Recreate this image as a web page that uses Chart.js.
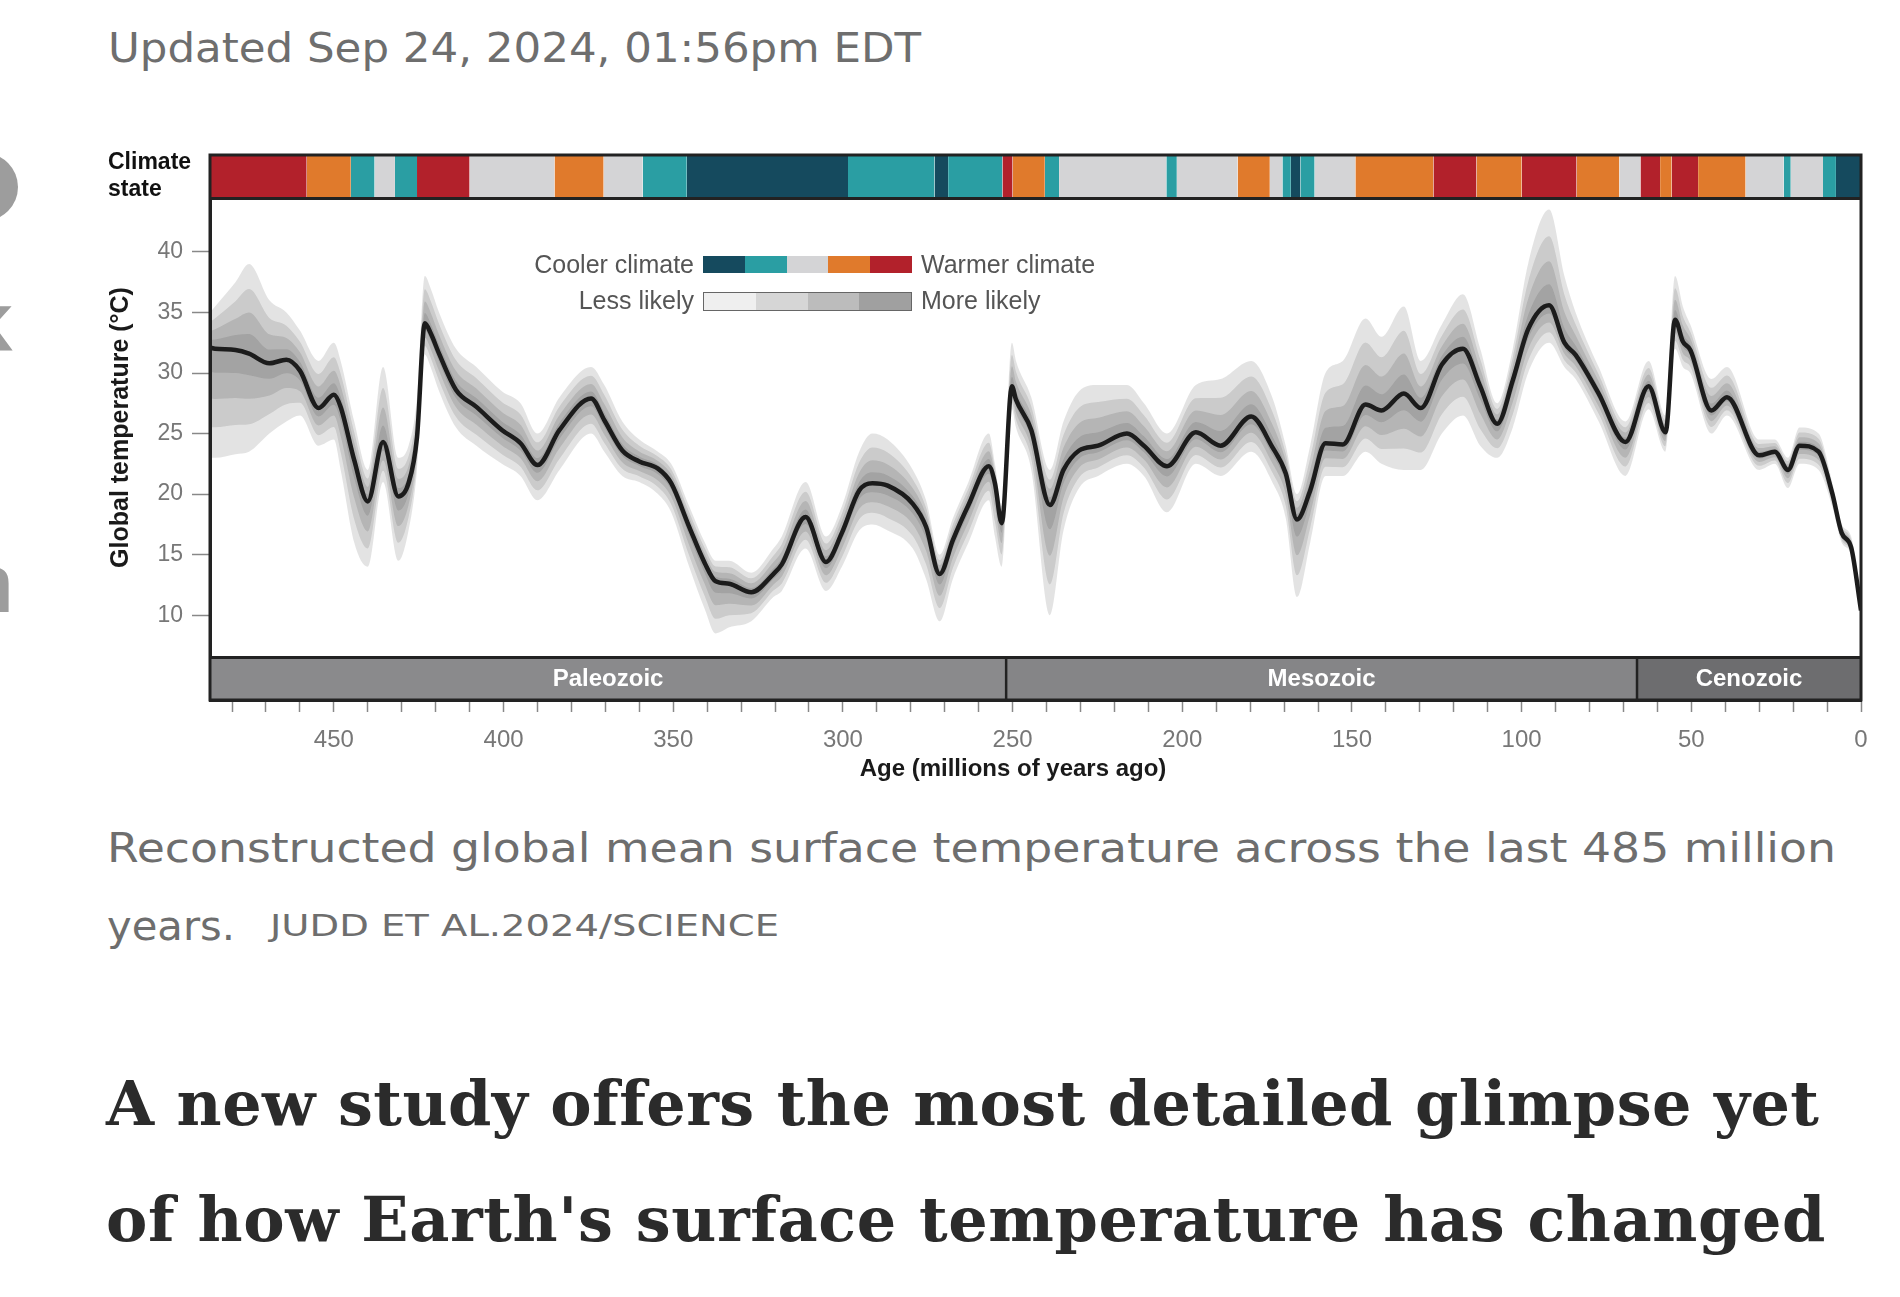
<!DOCTYPE html>
<html lang="en">
<head>
<meta charset="UTF-8">
<title>Reconstructed global mean surface temperature</title>
<script src="https://cdn.jsdelivr.net/npm/chart.js@4"></script>
<style>
  body { margin: 0; width: 1900px; height: 1297px; background: #fff; position: relative; overflow: hidden; font-family: 'DejaVu Sans', sans-serif; }
  .abs { position: absolute; white-space: nowrap; }
  #updated { left: 108px; top: 20px; font-size: 40px; line-height: 56px; color: #6e6e6e; }
  #chartBox { position: absolute; left: 0; top: 0; width: 1900px; height: 800px; }
  #climateLbl { left: 108px; top: 148px; font: bold 23px/27px 'Liberation Sans Narrow', 'Liberation Sans', sans-serif; color: #111; }
  #xTitle { left: 1013px; top: 753px; transform: translateX(-50%); font: bold 24px/30px 'Liberation Sans Narrow', 'Liberation Sans', sans-serif; color: #1a1a1a; }
  .leg { font: 25px/28px 'Liberation Sans Narrow', 'Liberation Sans', sans-serif; color: #555; }
  .sw { position: absolute; display: flex; height: 17px; }
  .sw div { flex: 1; }
  .cap { font-size: 40px; line-height: 52px; color: #6e6e6e; }
  #credit { font-size: 30px; line-height: 40px; color: #6e6e6e; }
  .head { font: bold 62px/80px 'DejaVu Serif', serif; color: #2b2b2b; }
  .edge { font: bold 80px/80px 'Open Sans', sans-serif; color: #9d9d9d; }
  #dot { position: absolute; left: -50px; top: 153px; width: 68px; height: 68px; border-radius: 50%; background: #9d9d9d; }
</style>
</head>
<body>
<div class="abs" id="updated">Updated Sep 24, 2024, 01:56pm EDT</div>

<div id="dot"></div>
<div class="abs edge" style="left:-37px; top:279px">k</div>
<div class="abs edge" style="left:-38px; top:541px">n</div>

<div id="chartBox"><canvas id="tempChart"></canvas></div>

<div class="abs" id="climateLbl">Climate<br>state</div>
<div class="abs" id="xTitle">Age (millions of years ago)</div>

<div class="abs leg" style="right:1206px; top:250px">Cooler climate</div>
<div class="sw" id="swClimate" style="left:703px; top:256px; width:209px"></div>
<div class="abs leg" style="left:921px; top:250px">Warmer climate</div>
<div class="abs leg" style="right:1206px; top:286px">Less likely</div>
<div class="sw" id="swLikely" style="left:703px; top:292px; width:207px; border:1px solid #666"></div>
<div class="abs leg" style="left:921px; top:286px">More likely</div>

<div class="abs cap" id="cap1" style="left:107px; top:822px">Reconstructed global mean surface temperature across the last 485 million</div>
<div class="abs cap" id="cap2" style="left:107px; top:900px">years.</div>
<div class="abs" id="credit" style="left:270px; top:906px">JUDD ET AL.2024/SCIENCE</div>

<div class="abs head" id="head1" style="left:106px; top:1064px">A new study offers the most detailed glimpse yet</div>
<div class="abs head" id="head2" style="left:106px; top:1180px">of how Earth's surface temperature has changed</div>

<script>
// age in millions of years ago, mean temperature and outer uncertainty envelope (°C)
const ages = [486.5, 485, 479, 475, 469, 464, 460, 454.5, 450, 448, 444, 440, 435.5, 431, 428, 425.5, 423.2, 421.5, 419, 414,
  408, 400.5, 395, 390, 383.5, 374.2, 370.3, 365, 360, 354.5, 350.6, 345.3, 340.7, 337.5, 333.5, 327, 320.5, 318, 311, 305,
  300.3, 295.2, 291.3, 286.8, 279.4, 275.5, 271.5, 267.6, 263, 257, 255.2, 253.2, 250.2, 249, 244.5, 239, 235, 230.4, 224.8, 216.3,
  211.3, 204.5, 196, 188.7, 179.7, 173.5, 169.5, 166.2, 162.3, 157.8, 152.7, 146, 141.3, 134.7, 129.7, 123.5, 117.3, 112.2, 107.2, 102.6,
  98.1, 91.9, 87.4, 84.1, 77.3, 69.4, 62.6, 57.6, 54.8, 52.5, 50.3, 44.1, 39.5, 30, 25.4, 21.5, 18.1, 12.5, 8.5, 5.7, 2.9, 0];
const meanTemp = [32.1, 32.0, 31.9, 31.6, 30.8, 31.1, 30.2, 27.1, 28.2, 27.2, 22.8, 19.4, 24.3, 19.8, 20.9, 24.7, 34.1, 33.3, 31.6, 28.6,
  27.2, 25.3, 24.2, 22.4, 25.3, 27.9, 26.1, 23.6, 22.7, 22.1, 20.9, 17.3, 14.3, 12.8, 12.6, 11.9, 13.4, 14.2, 18.1, 14.4,
  16.8, 20.3, 20.9, 20.7, 19.2, 17.3, 13.4, 16.2, 19.1, 22.3, 20.9, 17.6, 28.9, 27.8, 25.3, 19.1, 22.0, 23.6, 24.0, 25.0,
  24.0, 22.3, 25.1, 24.0, 26.4, 23.9, 21.7, 17.9, 20.3, 24.2, 24.1, 27.4, 26.9, 28.3, 27.1, 30.7, 32.0, 28.9, 25.8, 29.4,
  33.6, 35.6, 32.5, 31.5, 28.3, 24.3, 28.9, 25.1, 34.4, 32.6, 31.9, 26.9, 28.0, 23.2, 23.5, 22.0, 24.0, 23.5, 20.1, 16.8, 15.6, 10.4];
const outerHigh = [35, 35.5, 37.5, 39, 36, 35, 33.5, 31, 32.5, 31, 26, 22, 30.5, 23, 24, 28, 38, 37, 35, 32,
  30.5, 28.5, 27.5, 25, 28, 30.5, 29, 26, 24.5, 23.5, 22.5, 19, 16, 14.5, 14.5, 13.5, 15.5, 16.5, 21, 16.5,
  19, 23.5, 25, 24.5, 22, 19.5, 15, 18, 21, 25, 22.5, 19, 32.5, 31, 28, 22, 26, 28.5, 29, 29,
  27.5, 25, 29, 29.5, 31, 28, 24, 20, 24, 30, 31, 34.5, 33, 35.5, 31, 34, 36.5, 32, 27.5, 32,
  39, 43.5, 38, 35, 30.5, 26, 31, 26.5, 38, 35.5, 34, 29.5, 30.5, 24.5, 24.5, 23, 25.5, 25, 21, 17.5, 16.5, 10.8];
const outerLow = [23, 23, 23.3, 23.5, 25, 26, 26.5, 24, 24.5, 22, 16, 14, 21, 14.5, 17, 22, 31.5, 30.5, 28.5, 25.5,
  24, 22.5, 21.5, 19.5, 22, 25, 23.5, 21.5, 21, 20, 18.5, 14, 10.5, 8.5, 9, 9.5, 11.5, 12, 15.5, 12,
  14, 17, 17.5, 17, 15.5, 13, 9.5, 13, 16, 19.5, 16.5, 14, 27, 25.5, 22, 10, 17, 20.5, 21.5, 22.5,
  21.5, 18.5, 22.5, 21.5, 23.5, 21, 18, 11.5, 16, 21.5, 21.5, 23.5, 22.5, 22, 22, 25, 26.5, 24, 23, 25.5,
  30, 32.5, 30.5, 29.5, 26, 21.5, 27, 23.5, 32, 30.5, 30, 25, 26.5, 22, 22.5, 20.5, 22.5, 22, 19, 16, 15, 10];

// climate state strip: boundaries (Ma) and state per interval, 0 = coolest ... 4 = warmest
const climateBounds = [486.5, 458, 445, 438, 432, 425.5, 410, 385, 370.5, 359, 346, 298.5, 273, 269, 253, 250, 240.5, 236.3, 204.7, 201.6,
  183.7, 174.2, 170.5, 168, 165.2, 161, 149, 126, 113.3, 100, 83.8, 71.2, 65, 59.2, 55.8, 48, 34, 22.8, 20.7, 11.2, 7.4, 0];
const climateState = [4, 3, 1, 2, 1, 4, 2, 3, 2, 1, 0, 1, 0, 1, 4, 3, 1, 2, 1, 2,
  3, 2, 1, 0, 1, 2, 3, 4, 3, 4, 3, 2, 4, 3, 4, 3, 2, 1, 2, 1, 0];
const climateColors = ['#154a5e', '#2a9ea3', '#d4d4d6', '#e07a2c', '#b2212b'];
const likelyColors = ['#efefef', '#d6d6d6', '#bcbcbc', '#a0a0a0'];

// geological eras
const eraNames = ['Paleozoic', 'Mesozoic', 'Cenozoic'];
const eraBounds = [486.5, 251.9, 66, 0];
const eraColors = ['#8a8a8c', '#858587', '#6d6d6f'];

const xTicks = [];
for (let v = 0; v <= 480; v += 10) xTicks.push(v);
const yTicks = [10, 15, 20, 25, 30, 35, 40];

const Y_MIN = 3, Y_MAX = 48;        // full frame, incl. strip and era band
const STRIP_LOW = 44.4, ERA_TOP = 6.5;
const shadeLevels = [1, 0.72, 0.46, 0.22];

const narrow = "'Liberation Sans Narrow', 'Liberation Sans', sans-serif";

// legend swatches
climateColors.forEach(c => { const d = document.createElement('div'); d.style.background = c; document.getElementById('swClimate').appendChild(d); });
likelyColors.forEach(c => { const d = document.createElement('div'); d.style.background = c; document.getElementById('swLikely').appendChild(d); });

// widen page text to the widths it has in the original layout
function stretchTo(id, target) {
  const el = document.getElementById(id);
  const w = el.getBoundingClientRect().width;
  el.style.transformOrigin = 'left center';
  el.style.transform = 'scaleX(' + (target / w) + ')';
}
function spaceTo(id, target) {
  const el = document.getElementById(id);
  const w = el.getBoundingClientRect().width;
  el.style.letterSpacing = ((target - w) / el.textContent.length) + 'px';
}
stretchTo('updated', 813);
stretchTo('cap1', 1729);
stretchTo('cap2', 128);
stretchTo('credit', 509);
spaceTo('head1', 1711);
spaceTo('head2', 1720);

const pts = vals => ages.map((a, i) => ({ x: a, y: vals[i] }));

const datasets = [{
  data: pts(meanTemp),
  borderColor: '#1c1c1c',
  borderWidth: 4.5,
  borderJoinStyle: 'round',
  cubicInterpolationMode: 'monotone',
  pointRadius: 0,
  fill: false
}];

// nested uncertainty shading
shadeLevels.forEach(f => {
  const hi = meanTemp.map((m, i) => m + f * (outerHigh[i] - m));
  const lo = meanTemp.map((m, i) => m - f * (m - outerLow[i]));
  datasets.push({ data: pts(hi), borderWidth: 0, pointRadius: 0, cubicInterpolationMode: 'monotone',
    fill: '+1', backgroundColor: 'rgba(40,40,40,0.13)' });
  datasets.push({ data: pts(lo), borderWidth: 0, pointRadius: 0, cubicInterpolationMode: 'monotone', fill: false });
});

// climate strip
climateState.forEach((s, i) => {
  datasets.push({
    data: [{ x: climateBounds[i], y: STRIP_LOW }, { x: climateBounds[i + 1], y: STRIP_LOW }],
    borderWidth: 0, pointRadius: 0, fill: { value: Y_MAX }, backgroundColor: climateColors[s]
  });
});

// era band
eraNames.forEach((n, i) => {
  datasets.push({
    data: [{ x: eraBounds[i], y: ERA_TOP }, { x: eraBounds[i + 1], y: ERA_TOP }],
    borderWidth: 0, pointRadius: 0, fill: { value: Y_MIN }, backgroundColor: eraColors[i]
  });
});

const framePlugin = {
  id: 'frame',
  afterDatasetsDraw(chart) {
    const { ctx, chartArea: a, scales: { x, y } } = chart;
    const line = (x1, y1, x2, y2) => { ctx.beginPath(); ctx.moveTo(x1, y1); ctx.lineTo(x2, y2); ctx.stroke(); };
    ctx.save();
    ctx.strokeStyle = '#222';
    ctx.lineWidth = 3;
    ctx.strokeRect(a.left, a.top, a.right - a.left, a.bottom - a.top);
    const ys = y.getPixelForValue(STRIP_LOW), ye = y.getPixelForValue(ERA_TOP);
    line(a.left, ys, a.right, ys);
    line(a.left, ye, a.right, ye);
    ctx.lineWidth = 2.5;
    eraBounds.slice(1, -1).forEach(v => { const px = x.getPixelForValue(v); line(px, ye, px, a.bottom); });
    ctx.fillStyle = '#fff';
    ctx.font = 'bold 24px ' + narrow;
    ctx.textAlign = 'center';
    ctx.textBaseline = 'middle';
    eraNames.forEach((n, i) => {
      const cx = (x.getPixelForValue(eraBounds[i]) + x.getPixelForValue(eraBounds[i + 1])) / 2;
      ctx.fillText(n, cx, (ye + a.bottom) / 2 + 1);
    });
    ctx.restore();
  }
};

new Chart(document.getElementById('tempChart'), {
  type: 'line',
  data: { datasets },
  plugins: [framePlugin],
  options: {
    responsive: true,
    maintainAspectRatio: false,
    animation: false,
    layout: { padding: { left: 106, right: 39, top: 155, bottom: 16 } },
    plugins: { legend: { display: false }, tooltip: { enabled: false } },
    scales: {
      x: {
        type: 'linear', reverse: true, min: 0, max: 486.5,
        afterBuildTicks: s => { s.ticks = xTicks.map(v => ({ value: v })); },
        afterFit: s => { s.height = 84; },
        grid: { drawOnChartArea: false, tickLength: 12, tickColor: '#888', tickWidth: 1.5 },
        border: { color: '#222', width: 3 },
        ticks: { autoSkip: false, maxRotation: 0, padding: 14, color: '#777',
          font: { family: narrow, size: 24 },
          callback: v => (v % 50 === 0 ? String(v) : '') }
      },
      y: {
        min: Y_MIN, max: Y_MAX,
        afterBuildTicks: s => { s.ticks = yTicks.map(v => ({ value: v })); },
        afterFit: s => { s.width = 104; },
        grid: { drawOnChartArea: false, tickLength: 18, tickColor: '#888', tickWidth: 1.5 },
        border: { color: '#222', width: 3 },
        ticks: { padding: 9, color: '#777', font: { family: narrow, size: 23 } },
        title: { display: true, text: 'Global temperature (°C)', color: '#1a1a1a',
          font: { family: narrow, size: 25, weight: 'bold' }, padding: { top: 0, bottom: 0 } }
      }
    }
  }
});
</script>
</body>
</html>
